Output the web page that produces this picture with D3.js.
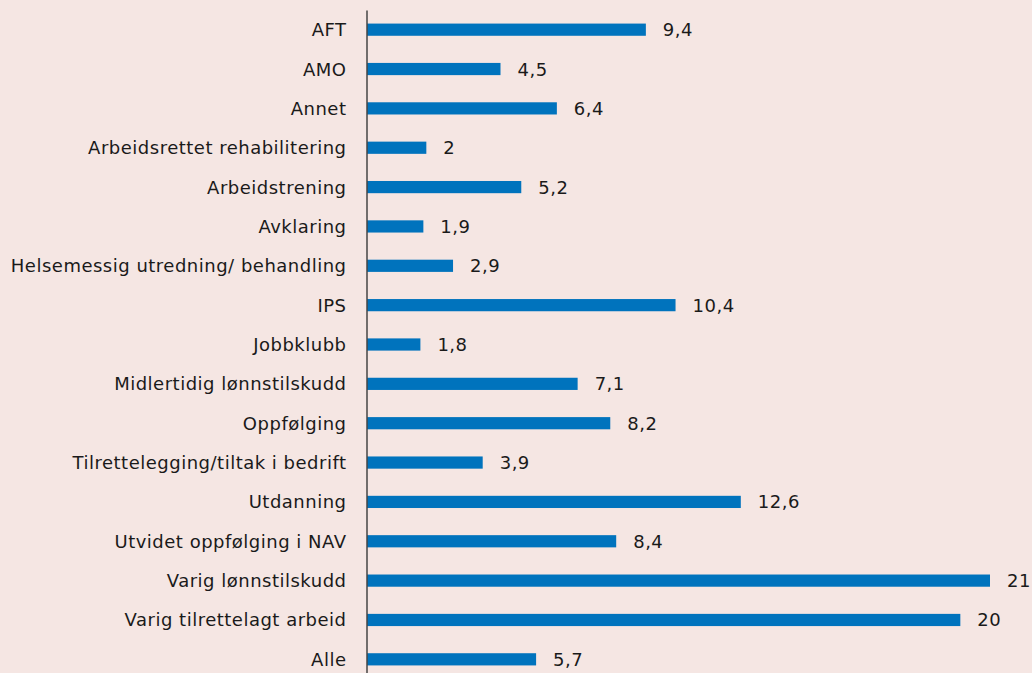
<!DOCTYPE html>
<html>
<head>
<meta charset="utf-8">
<script src="https://cdn.jsdelivr.net/npm/d3@7.9.0/dist/d3.min.js"></script>
<style>
  html, body { margin: 0; padding: 0; background: #f5e6e3; }
  svg { display: block; }
  text { font-family: "DejaVu Sans", sans-serif; fill: #1a1a1a; }
</style>
</head>
<body>
<div id="chart"></div>
<script>
const categories = [
  'AFT', 'AMO', 'Annet', 'Arbeidsrettet rehabilitering', 'Arbeidstrening',
  'Avklaring', 'Helsemessig utredning/ behandling', 'IPS', 'Jobbklubb',
  'Midlertidig lønnstilskudd', 'Oppfølging', 'Tilrettelegging/tiltak i bedrift',
  'Utdanning', 'Utvidet oppfølging i NAV', 'Varig lønnstilskudd',
  'Varig tilrettelagt arbeid', 'Alle'
];
const values = [9.4, 4.5, 6.4, 2, 5.2, 1.9, 2.9, 10.4, 1.8, 7.1, 8.2, 3.9, 12.6, 8.4, 21, 20, 5.7];

const width = 1032;
const height = 673;
const margin = { top: 10, right: 42, bottom: -6, left: 367 };

const svg = d3.select('#chart')
  .append('svg')
  .attr('width', width)
  .attr('height', height);

const x = d3.scaleLinear()
  .domain([0, 21])
  .range([margin.left, 990]);

const y = d3.scaleBand()
  .domain(categories)
  .range([margin.top, height - margin.bottom])
  .paddingInner(0.69)
  .paddingOuter(0.345);

const rows = categories.map((c, i) => ({ name: c, value: values[i] }));

svg.append('g')
  .selectAll('rect')
  .data(rows)
  .join('rect')
  .attr('x', x(0))
  .attr('y', (d) => y(d.name))
  .attr('width', (d) => x(d.value) - x(0))
  .attr('height', y.bandwidth())
  .attr('fill', '#0073bd');

svg.append('g')
  .selectAll('text')
  .data(rows)
  .join('text')
  .attr('x', (d) => x(d.value) + 17)
  .attr('y', (d) => y(d.name) + y.bandwidth() / 2)
  .attr('dy', '0.36em')
  .attr('font-size', 18)
  .attr('letter-spacing', 0.5)
  .text((d) => String(d.value).replace('.', ','));

const yAxis = d3.axisLeft(y).tickSize(0).tickPadding(20);

const axisG = svg.append('g')
  .attr('transform', `translate(${x(0) - 0.5}, 0)`)
  .call(yAxis);

axisG.select('.domain')
  .attr('stroke', '#444')
  .attr('stroke-width', 1.5);

axisG.selectAll('text')
  .attr('font-size', 18)
  .attr('letter-spacing', 0.5)
  .attr('dy', '0.36em')
  .attr('font-family', '"DejaVu Sans", sans-serif')
  .attr('fill', '#1a1a1a');
</script>
</body>
</html>
